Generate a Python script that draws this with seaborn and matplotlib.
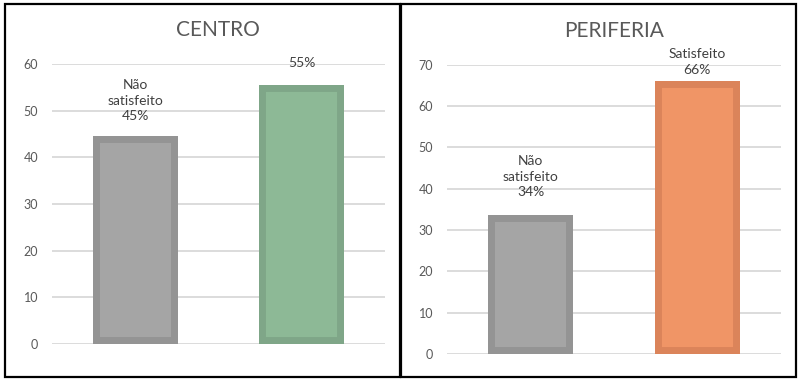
import matplotlib
matplotlib.use("Agg")
import matplotlib.pyplot as plt
from matplotlib.patches import Rectangle
import seaborn as sns
import pandas as pd

# dados
categorias = ["Não satisfeito", "Satisfeito"]
centro_vals = [44.6, 55.5]
periferia_vals = [33.6, 66.1]
centro_rotulos = ["Não\nsatisfeito\n45%", "55%"]
periferia_rotulos = ["Não\nsatisfeito\n34%", "Satisfeito\n66%"]

sns.set_theme(style="white")
plt.rcParams["font.family"] = ["Lato", "DejaVu Sans"]

TXT = "#595959"
GRID = "#D9D9D9"


def painel(ax, titulo, vals, rotulos, fills, edges, ymax, offsets):
    df = pd.DataFrame({"cat": categorias, "val": vals})
    sns.barplot(data=df, x="cat", y="val", hue="cat", palette=fills,
                width=0.51, saturation=1, legend=False, ax=ax, zorder=3)
    # borda mais escura só por dentro da barra
    for p, ec in zip(ax.patches, edges):
        p.set_edgecolor(ec)
        p.set_linewidth(10)
        p.set_joinstyle("miter")
        p.set_clip_path(p)
    ax.set_ylim(0, ymax)
    ax.set_yticks(range(0, ymax + 1, 10))
    ax.yaxis.grid(True, color=GRID, linewidth=1.3, zorder=0)
    ax.set_axisbelow(True)
    ax.set_xlabel("")
    ax.set_ylabel("")
    ax.set_xticks([])
    ax.tick_params(axis="y", length=0, labelsize=9, labelcolor=TXT, pad=10)
    for s in ax.spines.values():
        s.set_visible(False)
    ax.set_title(titulo, fontsize=15, color=TXT, pad=20)
    for i, (v, r) in enumerate(zip(vals, rotulos)):
        ax.text(i, v + offsets[i], r, ha="center", va="center",
                fontsize=10, color="#404040", linespacing=1.35)


fig = plt.figure(figsize=(8, 3.8), dpi=100)
ax1 = fig.add_axes([0.065, 0.0947, 0.416, 0.737])
ax2 = fig.add_axes([0.559, 0.0684, 0.417, 0.761])

painel(ax1, "CENTRO", centro_vals, centro_rotulos,
       ["#A5A5A5", "#8DB996"], ["#949494", "#7FA688"], 60, [7.5, 4.7])
painel(ax2, "PERIFERIA", periferia_vals, periferia_rotulos,
       ["#A5A5A5", "#F09566"], ["#949494", "#DB845A"], 70, [9.3, 4.6])

# molduras dos dois painéis
fig.patches.append(Rectangle((5 / 800, 3 / 380), 395 / 800, 373 / 380,
                             transform=fig.transFigure, fill=False,
                             edgecolor="black", linewidth=1.6))
fig.patches.append(Rectangle((401 / 800, 3 / 380), 395 / 800, 373 / 380,
                             transform=fig.transFigure, fill=False,
                             edgecolor="black", linewidth=1.6))

fig.savefig("out.png", dpi=100)
